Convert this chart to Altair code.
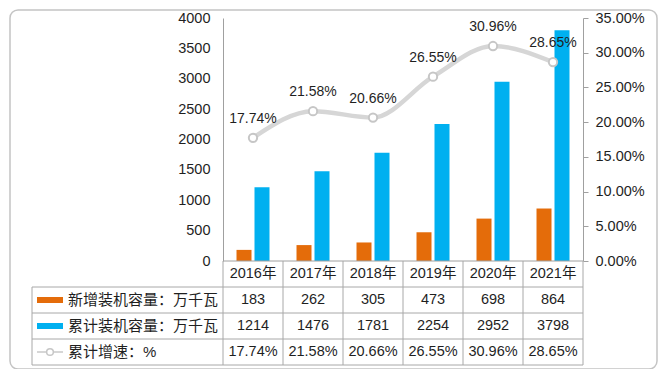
import altair as alt
import pandas as pd

years = ["2016年", "2017年", "2018年", "2019年", "2020年", "2021年"]
new_cap = [183, 262, 305, 473, 698, 864]
cum_cap = [1214, 1476, 1781, 2254, 2952, 3798]
growth = [17.74, 21.58, 20.66, 26.55, 30.96, 28.65]

s_new = "新增装机容量：万千瓦"
s_cum = "累计装机容量：万千瓦"
s_gr = "累计增速：%"
rows = ["year", s_new, s_cum, s_gr]

FONT = "Liberation Sans, Arial, Noto Sans CJK SC"
ORANGE = "#E46C0A"
BLUE = "#00B0F0"
LINE = "#d6d6d6"
GRID = "#a8a8a8"
TXT = "#1f1f1f"

# layout (pixels inside plot area)
W = 360
CHART_H = 243
ROW_H = 26
TABLE_B = CHART_H + ROW_H * 4
LABEL_L = -191

df_bars = pd.DataFrame(
    {"year": years * 2,
     "series": [s_new] * 6 + [s_cum] * 6,
     "value": new_cap + cum_cap}
)
df_line = pd.DataFrame({"year": years, "growth": growth,
                        "label": [f"{g:.2f}%" for g in growth]})

tab_year, tab_row, tab_text = [], [], []
for i, y in enumerate(years):
    tab_year += [y] * 4
    tab_row += rows
    tab_text += [y, str(new_cap[i]), str(cum_cap[i]), f"{growth[i]:.2f}%"]
df_table = pd.DataFrame({"year": tab_year, "row": tab_row, "text": tab_text})
df_rows = pd.DataFrame({"row": rows})
df_years = pd.DataFrame({"year": years})

xscale = alt.Scale(type="band", domain=years, paddingInner=0, paddingOuter=0)
color_scale = alt.Scale(domain=[s_new, s_cum], range=[ORANGE, BLUE])
tscale = alt.Scale(type="band", domain=rows, range=[CHART_H, TABLE_B],
                   paddingInner=0, paddingOuter=0)

bars = alt.Chart(df_bars).mark_bar().encode(
    x=alt.X("year:N", scale=xscale, axis=None),
    xOffset=alt.XOffset("series:N", scale=alt.Scale(domain=[s_new, s_cum],
                                                    paddingInner=1 / 6, paddingOuter=0.75)),
    y=alt.Y("value:Q",
            scale=alt.Scale(domain=[0, 4000], range=[CHART_H, 0], nice=False),
            axis=alt.Axis(orient="left", values=list(range(0, 4001, 500)), ticks=False,
                          format="d",
                          grid=False, domainColor="#a0a0a0", labelPadding=13,
                          labelFontSize=14.5, labelColor=TXT, labelFont=FONT, title=None)),
    color=alt.Color("series:N", scale=color_scale, legend=None),
)

base_line = alt.Chart(df_line).encode(
    x=alt.X("year:N", scale=xscale, axis=None),
    y=alt.Y("growth:Q",
            scale=alt.Scale(domain=[0, 35], range=[CHART_H, 0], nice=False),
            axis=alt.Axis(orient="right", values=list(range(0, 36, 5)),
                          labelExpr="format(datum.value, '.2f') + '%'",
                          tickSize=5, tickColor="#a0a0a0", domainColor="#a0a0a0",
                          grid=False, labelPadding=7, labelFontSize=14.5,
                          labelColor=TXT, labelFont=FONT, title=None)),
)
line = base_line.mark_line(interpolate="monotone", color=LINE, strokeWidth=4.5)
pts = base_line.mark_point(filled=True, fill="white", stroke="#c6c6c6",
                           strokeWidth=2, size=70, opacity=1)
lbls = base_line.mark_text(dy=-19, fontSize=14, font=FONT, color=TXT).encode(text="label:N")
line_group = alt.layer(line, pts, lbls)

# table
tab_text_layer = alt.Chart(df_table).mark_text(fontSize=14.5, font=FONT, color=TXT).encode(
    x=alt.X("year:N", scale=xscale, axis=None),
    y=alt.Y("row:N", scale=tscale, axis=None),
    text="text:N",
)
hlines = alt.Chart(df_rows).transform_filter(alt.datum.row != "year").mark_rule(
    color=GRID, strokeWidth=1).encode(
    y=alt.Y("row:N", scale=tscale, axis=None, bandPosition=0),
    x=alt.value(LABEL_L), x2=alt.value(W),
)
hbottom = alt.Chart(df_rows).transform_filter(alt.datum.row == s_gr).mark_rule(
    color=GRID, strokeWidth=1).encode(
    y=alt.Y("row:N", scale=tscale, axis=None, bandPosition=1),
    x=alt.value(LABEL_L), x2=alt.value(W),
)
htop = alt.Chart(df_rows).transform_filter(alt.datum.row == "year").mark_rule(
    color="#a0a0a0", strokeWidth=1).encode(
    y=alt.Y("row:N", scale=tscale, axis=None, bandPosition=0),
    x=alt.value(0), x2=alt.value(W),
)
vlines = alt.Chart(df_years).mark_rule(color=GRID, strokeWidth=1).encode(
    x=alt.X("year:N", scale=xscale, axis=None, bandPosition=0),
    y=alt.value(CHART_H), y2=alt.value(TABLE_B),
)
vright = alt.Chart(df_years).transform_filter(alt.datum.year == years[-1]).mark_rule(
    color=GRID, strokeWidth=1).encode(
    x=alt.X("year:N", scale=xscale, axis=None, bandPosition=1),
    y=alt.value(CHART_H), y2=alt.value(TABLE_B),
)
vleft = alt.Chart(df_rows).transform_filter(alt.datum.row == s_new).mark_rule(
    color=GRID, strokeWidth=1).encode(
    x=alt.value(LABEL_L),
    y=alt.Y("row:N", scale=tscale, axis=None, bandPosition=0),
    y2=alt.value(TABLE_B),
)
row_labels = alt.Chart(df_rows).transform_filter(alt.datum.row != "year").mark_text(
    align="left", fontSize=15, font=FONT, color=TXT).encode(
    x=alt.value(-155),
    y=alt.Y("row:N", scale=tscale, axis=None),
    text="row:N",
)
swatch_bars = alt.Chart(df_rows).transform_filter(
    (alt.datum.row == s_new) | (alt.datum.row == s_cum)).mark_rule(strokeWidth=6).encode(
    x=alt.value(-186), x2=alt.value(-160),
    y=alt.Y("row:N", scale=tscale, axis=None),
    color=alt.Color("row:N", scale=color_scale, legend=None),
)
swatch_line = alt.Chart(df_rows).transform_filter(alt.datum.row == s_gr).mark_rule(
    strokeWidth=2, color=LINE).encode(
    x=alt.value(-186), x2=alt.value(-160),
    y=alt.Y("row:N", scale=tscale, axis=None),
)
swatch_pt = alt.Chart(df_rows).transform_filter(alt.datum.row == s_gr).mark_point(
    filled=True, fill="white", stroke="#c6c6c6", strokeWidth=1.5, size=45, opacity=1).encode(
    x=alt.value(-173),
    y=alt.Y("row:N", scale=tscale, axis=None),
)
table_group = alt.layer(hlines, hbottom, htop, vlines, vright, vleft,
                        swatch_bars, swatch_line, swatch_pt, row_labels, tab_text_layer)

frame = alt.Chart(pd.DataFrame({"k": [0]})).mark_rect(
    cornerRadius=8, fillOpacity=0, stroke="#c4c4c4", strokeWidth=1.5).encode(
    x=alt.value(-213), x2=alt.value(434), y=alt.value(-8), y2=alt.value(351),
)

chart = alt.layer(frame, bars, line_group, table_group).resolve_scale(
    y="independent", color="shared"
).properties(
    width=W, height=TABLE_B,
    autosize=alt.AutoSizeParams(type="none"),
    padding={"left": 215, "top": 10, "right": 76, "bottom": 4},
).configure_view(strokeWidth=0)

chart.save("out.html", embed_options={"renderer": "svg", "actions": False})
